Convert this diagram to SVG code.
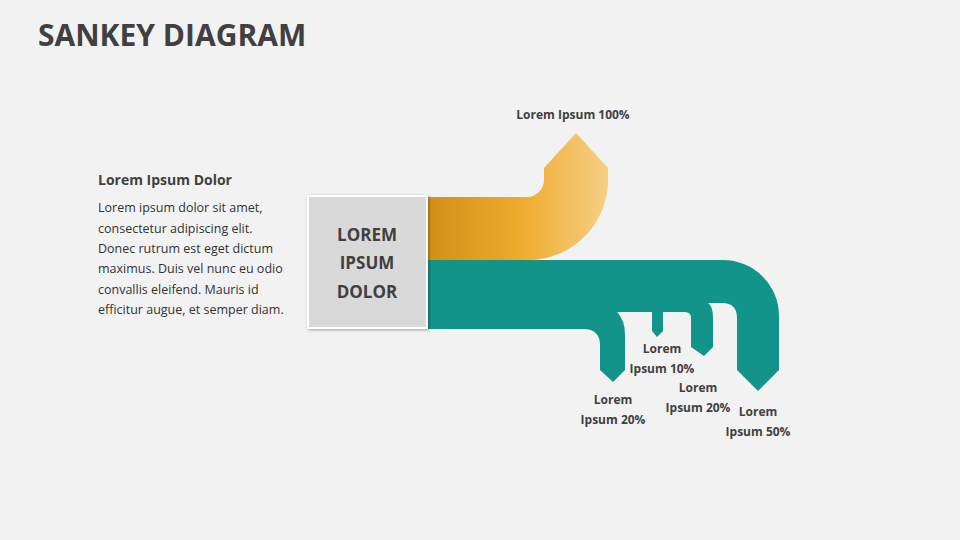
<svg xmlns="http://www.w3.org/2000/svg" width="960" height="540" viewBox="0 0 960 540">
<defs>
<linearGradient id="og" x1="427" y1="0" x2="608" y2="0" gradientUnits="userSpaceOnUse">
<stop offset="0" stop-color="#d18f16"/><stop offset="0.5" stop-color="#eeaa2c"/><stop offset="1" stop-color="#f6cf84"/>
</linearGradient>
<filter id="sh" x="-10%" y="-10%" width="130%" height="130%"><feDropShadow dx="1" dy="1" stdDeviation="1.5" flood-opacity="0.35"/></filter>
<style>
.t{font-family:"Open Sans","Liberation Sans",sans-serif;fill:#404040}
.b{font-weight:bold;font-size:12px;text-anchor:middle}
.p{font-size:12.5px;fill:#333}
</style>
</defs>
<rect width="960" height="540" fill="#f2f2f2"/>
<text class="t" x="38" y="46" font-size="30" font-weight="bold">SANKEY DIAGRAM</text>
<g id="text-block">
<text class="t" x="98" y="185" font-size="14" font-weight="bold" fill="#333">Lorem Ipsum Dolor</text>
<text class="t p" x="98" y="212">Lorem ipsum dolor sit amet,</text>
<text class="t p" x="98" y="233">consectetur adipiscing elit.</text>
<text class="t p" x="98" y="253">Donec rutrum est eget dictum</text>
<text class="t p" x="98" y="273">maximus. Duis vel nunc eu odio</text>
<text class="t p" x="98" y="294">convallis eleifend. Mauris id</text>
<text class="t p" x="98" y="314">efficitur augue, et semper diam.</text>
</g>
<g id="connectors">
<path id="flow-orange" fill="url(#og)" d="M427,197 H527 A17,17 0 0 0 544,180 V168 L576,133 L608,168 V180 A80,80 0 0 1 528,260 H427 Z"/>
<path id="flow-teal" fill="#12948a" d="M427,260 H723 A56,56 0 0 1 779,316 V370 L758,391 L737,370 V318 Q737,303 722,303 L708,303 Q713,306 713,318 V347 L704,356 L691,347 V318 Q691,312 685,312 H663 V331 L657,337 L652,331 V312 H617 Q625,320 625,335 V370 L613,382 L600,370 V345 Q600,329 583,329 H427 Z"/>
</g>
<g id="source-node">
<rect x="308" y="196" width="119" height="132" fill="#d9d9d9" stroke="#fff" stroke-width="2" filter="url(#sh)"/>
<text class="t" x="367" y="241" font-size="17" font-weight="bold" text-anchor="middle" fill="#555">LOREM</text>
<text class="t" x="367" y="269" font-size="17" font-weight="bold" text-anchor="middle" fill="#555">IPSUM</text>
<text class="t" x="367" y="298" font-size="17" font-weight="bold" text-anchor="middle" fill="#555">DOLOR</text>
</g>
<g id="label-100"><text class="t b" x="573" y="119">Lorem Ipsum 100%</text></g>
<g id="label-20a"><text class="t b" x="613" y="404">Lorem</text><text class="t b" x="613" y="424">Ipsum 20%</text></g>
<g id="label-10"><text class="t b" x="662" y="353">Lorem</text><text class="t b" x="662" y="373">Ipsum 10%</text></g>
<g id="label-20b"><text class="t b" x="698" y="392">Lorem</text><text class="t b" x="698" y="412">Ipsum 20%</text></g>
<g id="label-50"><text class="t b" x="758" y="416">Lorem</text><text class="t b" x="758" y="436">Ipsum 50%</text></g>
</svg>
